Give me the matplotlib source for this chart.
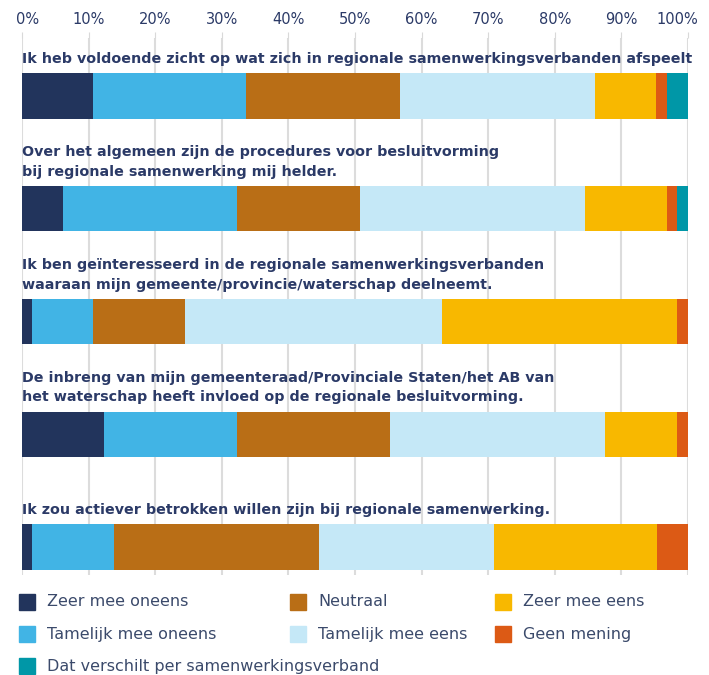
import matplotlib.pyplot as plt
import matplotlib.transforms as mtransforms
from matplotlib.patches import Rectangle

vragen = [
    "Ik heb voldoende zicht op wat zich in regionale samenwerkingsverbanden afspeelt",
    "Over het algemeen zijn de procedures voor besluitvorming\nbij regionale samenwerking mij helder.",
    "Ik ben geïnteresseerd in de regionale samenwerkingsverbanden\nwaaraan mijn gemeente/provincie/waterschap deelneemt.",
    "De inbreng van mijn gemeenteraad/Provinciale Staten/het AB van\nhet waterschap heeft invloed op de regionale besluitvorming.",
    "Ik zou actiever betrokken willen zijn bij regionale samenwerking.",
]

categorieen = ["Zeer mee oneens", "Tamelijk mee oneens", "Neutraal", "Tamelijk mee eens",
               "Zeer mee eens", "Geen mening", "Dat verschilt per samenwerkingsverband"]
kleuren = ["#22345c", "#41b4e5", "#b96e16", "#c5e8f7", "#f8b800", "#dc5a15", "#0097a7"]

zeer_oneens = [10.7, 6.1, 1.5, 12.3, 1.5]
tamelijk_oneens = [23.0, 26.2, 9.2, 20.0, 12.3]
neutraal = [23.1, 18.4, 13.8, 23.0, 30.8]
tamelijk_eens = [29.3, 33.9, 38.5, 32.3, 26.2]
zeer_eens = [9.1, 12.3, 35.4, 10.8, 24.5]
geen_mening = [1.6, 1.5, 1.6, 1.6, 4.7]
verschilt = [3.2, 1.6, 0.0, 0.0, 0.0]

reeksen = [zeer_oneens, tamelijk_oneens, neutraal, tamelijk_eens, zeer_eens, geen_mening, verschilt]
ticks = list(range(0, 101, 10))
tick_labels = [f"{t}%" for t in ticks]

navy = "#2b3a67"
W, H = 709, 675
fig = plt.figure(figsize=(W / 100, H / 100), dpi=100)
ax = fig.add_axes([22 / W, 1 - 575 / H, 666 / W, 537 / H])

ypos = list(range(len(vragen)))
links = [0.0] * len(vragen)
for reeks, kleur, naam in zip(reeksen, kleuren, categorieen):
    ax.barh(ypos, reeks, left=links, height=0.4, color=kleur, label=naam, zorder=3)
    links = [a + b for a, b in zip(links, reeks)]

for i, vraag in enumerate(vragen):
    ax.text(0, i - 0.265, vraag, fontsize=10.3, fontweight="bold", color=navy,
            va="bottom", ha="left", linespacing=1.5)

ax.set_xlim(0, 100)
ax.set_ylim(4.248, -0.514)
ax.set_xticks(ticks)
ax.set_xticklabels(tick_labels)
ax.xaxis.tick_top()
ax.tick_params(axis="x", length=4, color="#d9d9d9", labelcolor=navy, labelsize=10.5, pad=4)
ax.set_yticks([])
ax.grid(axis="x", color="#dcdcdc", linewidth=1.5, zorder=0)
for s in ax.spines.values():
    s.set_visible(False)

# eerste en laatste label iets naar binnen, zoals in het origineel
labels = ax.get_xticklabels()
labels[0].set_transform(labels[0].get_transform() + mtransforms.ScaledTranslation(6 / 100, 0, fig.dpi_scale_trans))
labels[-1].set_transform(labels[-1].get_transform() + mtransforms.ScaledTranslation(-11 / 100, 0, fig.dpi_scale_trans))

# legenda
kol_x = [19, 290, 495]
rij_y = [602, 634, 666]
volgorde = [(0, 0, 0), (2, 1, 0), (4, 2, 0), (1, 0, 1), (3, 1, 1), (5, 2, 1), (6, 0, 2)]
for idx, k, r in volgorde:
    x, y = kol_x[k], rij_y[r]
    fig.add_artist(Rectangle((x / W, 1 - (y + 8) / H), 16 / W, 16 / H,
                             transform=fig.transFigure, color=kleuren[idx]))
    fig.text((x + 28) / W, 1 - y / H, categorieen[idx], fontsize=11.5,
             color="#3b4a6b", va="center", ha="left")

fig.savefig("out.png", dpi=100)
